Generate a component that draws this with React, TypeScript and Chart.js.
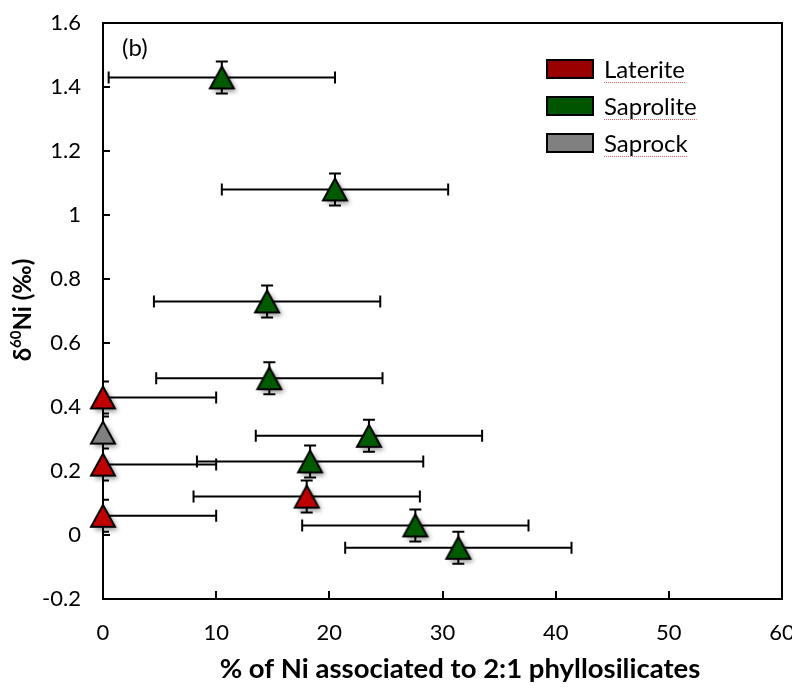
import { useEffect, useRef } from "react";
import { Chart, registerables } from "chart.js";

Chart.register(...registerables);

// ---- Data ----
const seriesNames = ["Laterite", "Saprolite", "Saprock"];
const seriesColors = ["#C00000", "#005A00", "#808080"];
const legendColors = ["#990000", "#005500", "#808080"];

const lateriteX = [0, 0, 0, 18];
const lateriteY = [0.43, 0.22, 0.06, 0.12];
const lateriteXErr = [10, 10, 10, 10];
const lateriteYErr = [0.05, 0.05, 0.05, 0.05];

const saproliteX = [10.5, 20.5, 14.5, 14.7, 23.5, 18.3, 27.6, 31.4];
const saproliteY = [1.43, 1.08, 0.73, 0.49, 0.31, 0.23, 0.03, -0.04];
const saproliteXErr = [10, 10, 10, 10, 10, 10, 10, 10];
const saproliteYErr = [0.05, 0.05, 0.05, 0.05, 0.05, 0.05, 0.05, 0.05];

const saprockX = [0];
const saprockY = [0.32];
const saprockXErr = [0];
const saprockYErr = [0.05];

const xTicks = [0, 10, 20, 30, 40, 50, 60];
const xTickLabels = ["0", "10", "20", "30", "40", "50", "60"];
const yTicks = [-0.2, 0, 0.2, 0.4, 0.6, 0.8, 1, 1.2, 1.4, 1.6];
const yTickLabels = ["-0.2", "0", "0.2", "0.4", "0.6", "0.8", "1", "1.2", "1.4", "1.6"];

const xTitle = "% of Ni associated to 2:1 phyllosilicates";
const panelLabel = "(b)";

const FONT = "Lato, 'Open Sans', 'Liberation Sans', sans-serif";

const allX = [lateriteX, saproliteX, saprockX];
const allY = [lateriteY, saproliteY, saprockY];
const allXErr = [lateriteXErr, saproliteXErr, saprockXErr];
const allYErr = [lateriteYErr, saproliteYErr, saprockYErr];

function makeTriangle(fill: string): HTMLCanvasElement {
  const c = document.createElement("canvas");
  c.width = 44;
  c.height = 44;
  const g = c.getContext("2d")!;
  const cx = 22;
  const cy = 22;
  const w = 24;
  const h = 22;
  g.beginPath();
  g.moveTo(cx, cy - h / 2);
  g.lineTo(cx + w / 2, cy + h / 2);
  g.lineTo(cx - w / 2, cy + h / 2);
  g.closePath();
  g.shadowColor = "rgba(0,0,0,0.45)";
  g.shadowBlur = 5;
  g.shadowOffsetX = 3;
  g.shadowOffsetY = 3;
  g.fillStyle = fill;
  g.fill();
  g.shadowColor = "transparent";
  g.lineWidth = 2;
  g.strokeStyle = "#000";
  g.lineJoin = "miter";
  g.stroke();
  return c;
}

const framePlugin = {
  id: "frame",
  beforeDatasetsDraw(chart: any) {
    const { ctx, chartArea: a, scales } = chart;
    ctx.save();
    ctx.strokeStyle = "#000";
    ctx.lineWidth = 2;
    ctx.strokeRect(a.left, a.top, a.right - a.left, a.bottom - a.top);
    ctx.beginPath();
    xTicks.forEach((v) => {
      const px = Math.round(scales.x.getPixelForValue(v));
      ctx.moveTo(px, a.bottom);
      ctx.lineTo(px, a.bottom - 8);
    });
    yTicks.forEach((v) => {
      const py = Math.round(scales.y.getPixelForValue(v));
      ctx.moveTo(a.left, py);
      ctx.lineTo(a.left + 7, py);
    });
    ctx.stroke();

    // error bars, clipped to plot area
    ctx.beginPath();
    ctx.rect(a.left, a.top, a.right - a.left, a.bottom - a.top);
    ctx.clip();
    ctx.strokeStyle = "#000";
    ctx.lineWidth = 2;
    ctx.beginPath();
    for (let s = 0; s < allX.length; s++) {
      for (let i = 0; i < allX[s].length; i++) {
        const x = allX[s][i];
        const y = allY[s][i];
        const xe = allXErr[s][i];
        const ye = allYErr[s][i];
        const py = scales.y.getPixelForValue(y);
        const px = scales.x.getPixelForValue(x);
        if (xe > 0) {
          const x1 = scales.x.getPixelForValue(x - xe);
          const x2 = scales.x.getPixelForValue(x + xe);
          ctx.moveTo(x1, py);
          ctx.lineTo(x2, py);
          ctx.moveTo(x1, py - 6);
          ctx.lineTo(x1, py + 6);
          ctx.moveTo(x2, py - 6);
          ctx.lineTo(x2, py + 6);
        }
        if (ye > 0) {
          const y1 = scales.y.getPixelForValue(y - ye);
          const y2 = scales.y.getPixelForValue(y + ye);
          ctx.moveTo(px, y1);
          ctx.lineTo(px, y2);
          ctx.moveTo(px - 6, y1);
          ctx.lineTo(px + 6, y1);
          ctx.moveTo(px - 6, y2);
          ctx.lineTo(px + 6, y2);
        }
      }
    }
    ctx.stroke();
    ctx.restore();
  },
  afterDraw(chart: any) {
    const { ctx } = chart;
    ctx.save();
    // panel label
    ctx.fillStyle = "#000";
    ctx.font = `24px ${FONT}`;
    ctx.textAlign = "left";
    ctx.textBaseline = "middle";
    ctx.fillText(panelLabel, 114, 40);

    // legend
    const lx = 539;
    const ly0 = 61;
    const gap = 37;
    ctx.font = `24px ${FONT}`;
    seriesNames.forEach((name, i) => {
      const cy = ly0 + i * gap;
      ctx.fillStyle = legendColors[i];
      ctx.fillRect(lx, cy - 9, 46, 18);
      ctx.strokeStyle = "#000";
      ctx.lineWidth = 2;
      ctx.strokeRect(lx, cy - 9, 46, 18);
      ctx.fillStyle = "#000";
      ctx.textBaseline = "middle";
      ctx.fillText(name, lx + 57, cy + 1);
      const w = ctx.measureText(name).width;
      ctx.save();
      ctx.strokeStyle = "rgba(230,60,60,0.8)";
      ctx.lineWidth = 1;
      ctx.setLineDash([1, 1]);
      ctx.beginPath();
      ctx.moveTo(lx + 57, cy + 13.5);
      ctx.lineTo(lx + 57 + w, cy + 13.5);
      ctx.stroke();
      ctx.restore();
    });

    // x axis title
    ctx.font = `bold 27.5px ${FONT}`;
    ctx.textAlign = "center";
    ctx.textBaseline = "middle";
    ctx.fillStyle = "#000";
    ctx.fillText(xTitle, 452, 661);

    // y axis title with superscript
    ctx.textAlign = "left";
    const cx = 15;
    const cy = 302;
    ctx.translate(cx, cy);
    ctx.rotate(-Math.PI / 2);
    const big = `bold 24px ${FONT}`;
    const small = `bold 15px ${FONT}`;
    const parts: [string, string, number][] = [
      ["δ", big, 0],
      ["60", small, -7],
      ["Ni (‰)", big, 0],
    ];
    let total = 0;
    parts.forEach(([t, f]) => {
      ctx.font = f;
      total += ctx.measureText(t).width;
    });
    let x = -total / 2;
    ctx.textBaseline = "middle";
    ctx.fillStyle = "#000";
    parts.forEach(([t, f, dy]) => {
      ctx.font = f;
      ctx.fillText(t, x, dy);
      x += ctx.measureText(t).width;
    });
    ctx.restore();
  },
};

export default function App() {
  const ref = useRef<HTMLCanvasElement | null>(null);

  useEffect(() => {
    if (!ref.current) return;
    const styles = seriesColors.map((c) => makeTriangle(c));
    const datasets = seriesNames.map((name, s) => ({
      label: name,
      data: allX[s].map((x, i) => ({ x, y: allY[s][i] })),
      pointStyle: styles[s],
      pointRadius: 12,
      backgroundColor: seriesColors[s],
      borderColor: "#000",
      showLine: false,
      clip: false as any,
    }));
    const chart = new Chart(ref.current, {
      type: "scatter",
      data: { datasets: datasets as any },
      options: {
        responsive: false,
        animation: false,
        events: [],
        layout: { padding: { top: 15, right: 18, left: 0, bottom: 0 } },
        plugins: {
          legend: { display: false },
          tooltip: { enabled: false },
        },
        scales: {
          x: {
            type: "linear",
            min: 0,
            max: 60,
            afterBuildTicks: (scale: any) => {
              scale.ticks = xTicks.map((v) => ({ value: v }));
            },
            afterFit: (scale: any) => {
              scale.height = 84;
              scale.paddingLeft = 0;
              scale.paddingRight = 0;
            },
            grid: { display: false, drawTicks: false },
            border: { display: false },
            ticks: {
              padding: 21,
              color: "#000",
              font: { family: FONT, size: 22 },
              callback: (_v: any, i: number) => xTickLabels[i],
            },
            title: { display: false },
          },
          y: {
            type: "linear",
            min: -0.2,
            max: 1.6,
            afterBuildTicks: (scale: any) => {
              scale.ticks = yTicks.map((v) => ({ value: v }));
            },
            afterFit: (scale: any) => {
              scale.width = 95;
              scale.paddingTop = 0;
              scale.paddingBottom = 0;
            },
            grid: { display: false, drawTicks: false },
            border: { display: false },
            ticks: {
              padding: 22,
              color: "#000",
              font: { family: FONT, size: 22 },
              callback: (_v: any, i: number) => yTickLabels[i],
            },
          },
        },
      },
      plugins: [framePlugin],
    });
    return () => chart.destroy();
  }, []);

  return (
    <div style={{ width: 792, height: 675, background: "#fff" }}>
      <canvas ref={ref} width={792} height={675} style={{ display: "block" }} />
    </div>
  );
}
